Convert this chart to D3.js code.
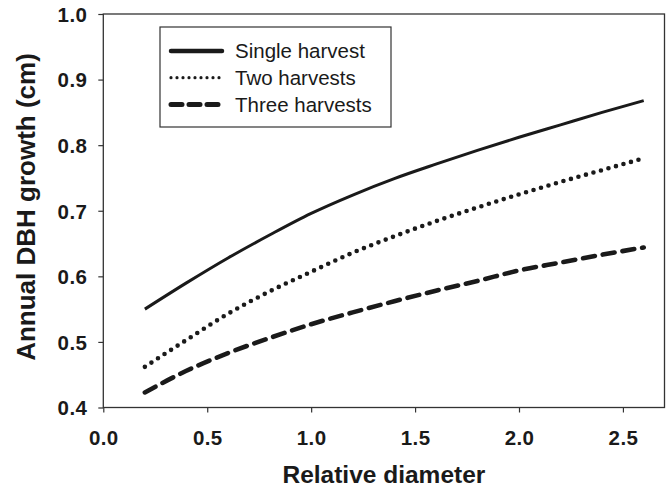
<!DOCTYPE html>
<html>
<head>
<meta charset="utf-8">
<script src="https://cdn.jsdelivr.net/npm/d3@7"></script>
<style>
  body { margin: 0; background: #fff; }
  svg { display: block; font-family: 'Liberation Sans', Arial, sans-serif; }
</style>
</head>
<body>
<svg id="chart" width="667" height="488"></svg>
<script>
// DATA
const diameter = [0.2, 0.4, 0.6, 0.8, 1.0, 1.2, 1.4, 1.6, 1.8, 2.0, 2.2, 2.4, 2.6];
const singleHarvest = [0.550, 0.590, 0.628, 0.663, 0.696, 0.724, 0.749, 0.771, 0.792, 0.812, 0.831, 0.850, 0.868];
const twoHarvests = [0.462, 0.503, 0.543, 0.577, 0.607, 0.636, 0.661, 0.684, 0.705, 0.725, 0.744, 0.762, 0.780];
const threeHarvests = [0.423, 0.456, 0.483, 0.506, 0.527, 0.545, 0.562, 0.578, 0.593, 0.609, 0.621, 0.633, 0.644];
const xTicks = [0, 0.5, 1.0, 1.5, 2.0, 2.5];
const yTicks = [0.4, 0.5, 0.6, 0.7, 0.8, 0.9, 1.0];
const seriesNames = ['Single harvest', 'Two harvests', 'Three harvests'];

//SETUP
const svg = d3.select('#chart');
const padding = { top: 14, right: 2.5, bottom: 80.5, left: 103.3 };
const width = +svg.attr('width');
const height = +svg.attr('height');
const ink = '#1a1a1a';

const styles = [
  { width: 3, dash: null, cap: 'butt', legendWidth: 4.5, legendDash: null },
  { width: 4.6, dash: '0,7.8', cap: 'round', legendWidth: 3.2, legendDash: '0,6' },
  { width: 4.6, dash: '12,8', cap: 'round', legendWidth: 5, legendDash: '11,7' },
];

const series = [singleHarvest, twoHarvests, threeHarvests].map((vals, i) => ({
  name: seriesNames[i],
  style: styles[i],
  values: diameter.map((d, j) => ({ x: d, y: vals[j] })),
}));

//SCALE AND AXIS
const xScale = d3.scaleLinear().domain([0, 2.7]).range([padding.left, width - padding.right]);
const yScale = d3.scaleLinear().domain([0.4, 1.0]).range([height - padding.bottom, padding.top]);

const xAxis = d3.axisBottom(xScale).tickValues(xTicks).tickFormat(d3.format('.1f')).tickSize(5).tickSizeOuter(0).tickPadding(18);
const yAxis = d3.axisLeft(yScale).tickValues(yTicks).tickFormat(d3.format('.1f')).tickSize(5).tickSizeOuter(0).tickPadding(11);

const gx = svg.append('g')
  .attr('transform', `translate(0,${height - padding.bottom})`)
  .call(xAxis);
const gy = svg.append('g')
  .attr('transform', `translate(${padding.left},0)`)
  .call(yAxis);

[gx, gy].forEach((g) => {
  g.select('.domain').remove();
  g.selectAll('line').attr('stroke', '#333').attr('stroke-width', 1.2);
  g.selectAll('text')
    .attr('fill', ink)
    .style('font-size', '20.5px')
    .style('font-weight', 'bold')
    .style('letter-spacing', '0.4px')
    .attr('font-family', null);
});
gx.selectAll('text').attr('dy', '0.71em');
gy.selectAll('text').attr('dy', '0.36em');

//FRAME
svg.append('rect')
  .attr('x', xScale(0))
  .attr('y', yScale(1.0))
  .attr('width', xScale(2.7) - xScale(0))
  .attr('height', yScale(0.4) - yScale(1.0))
  .attr('fill', 'none')
  .attr('stroke', '#333')
  .attr('stroke-width', 1.3);

//LINES
const path = d3.line()
  .x((d) => xScale(d.x))
  .y((d) => yScale(d.y))
  .curve(d3.curveMonotoneX);

svg.selectAll('.series')
  .data(series)
  .enter()
  .append('path')
  .classed('series', true)
  .attr('d', (d) => path(d.values))
  .attr('fill', 'none')
  .attr('stroke', ink)
  .attr('stroke-width', (d) => d.style.width)
  .attr('stroke-linecap', (d) => d.style.cap)
  .attr('stroke-dasharray', (d) => d.style.dash);

//LEGEND
const legend = svg.append('g').attr('transform', 'translate(160,27)');
legend.append('rect')
  .attr('width', 231)
  .attr('height', 100)
  .attr('fill', '#fff')
  .attr('stroke', '#333')
  .attr('stroke-width', 1.2);

const rows = legend.selectAll('.row')
  .data(series)
  .enter()
  .append('g')
  .attr('transform', (d, i) => `translate(0,${24 + i * 26.7})`);

rows.append('line')
  .attr('x1', 11)
  .attr('x2', 62)
  .attr('stroke', ink)
  .attr('stroke-width', (d) => d.style.legendWidth)
  .attr('stroke-linecap', 'round')
  .attr('stroke-dasharray', (d) => d.style.legendDash);

rows.append('text')
  .attr('x', 75)
  .attr('dy', '0.36em')
  .attr('fill', ink)
  .style('font-size', '20.5px')
  .text((d) => d.name);

//LABELS
svg.append('text')
  .attr('x', (xScale(0) + xScale(2.7)) / 2)
  .attr('y', 483)
  .attr('text-anchor', 'middle')
  .attr('fill', ink)
  .style('font-size', '24.5px')
  .style('font-weight', 'bold')
  .text('Relative diameter');

svg.append('text')
  .attr('transform', 'rotate(-90)')
  .attr('x', -207)
  .attr('y', 35)
  .attr('text-anchor', 'middle')
  .attr('fill', ink)
  .style('font-size', '26px')
  .style('font-weight', 'bold')
  .text('Annual DBH growth (cm)');
</script>
</body>
</html>
